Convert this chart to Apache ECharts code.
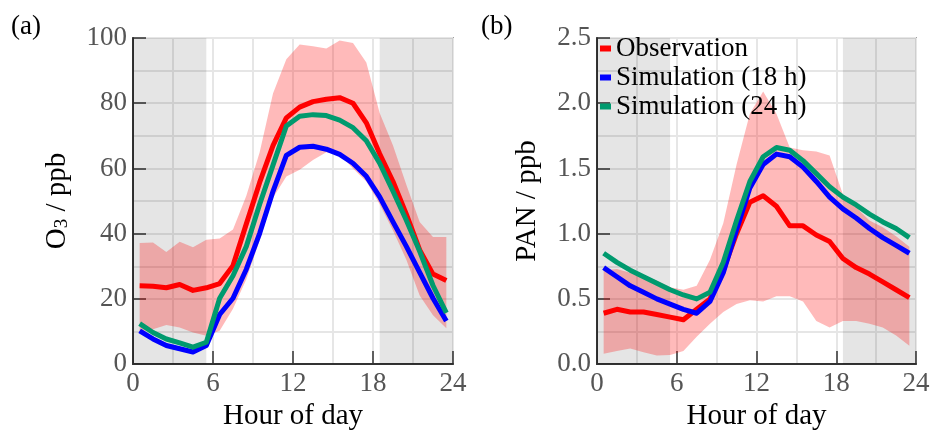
<!DOCTYPE html>
<html>
<head>
<meta charset="utf-8">
<script src="https://cdn.jsdelivr.net/npm/echarts@6/dist/echarts.min.js"></script>
<style>
html,body{margin:0;padding:0;background:#fff;}
#chart{width:933px;height:436px;}
</style>
</head>
<body>
<div id="chart"></div>
<script>
// ---- data ----
const hours = [0.5,1.5,2.5,3.5,4.5,5.5,6.5,7.5,8.5,9.5,10.5,11.5,12.5,13.5,14.5,15.5,16.5,17.5,18.5,19.5,20.5,21.5,22.5,23.5];
const xTicks = [0,6,12,18,24];
const nightRanges = [[0,5.5],[18.5,24]];
const seriesNames = ['Observation','Simulation (18 h)','Simulation (24 h)'];

const o3Obs   = [24.0,23.9,23.4,24.4,22.6,23.4,24.7,30.2,43.0,55.7,67.0,75.5,78.8,80.5,81.2,81.7,80.0,74.0,64.5,56.0,46.0,35.0,27.6,25.6];
const o3Sim18 = [10.2,7.7,5.7,4.7,3.7,5.7,15.2,20.2,29.1,40.1,53.0,64.0,66.5,66.8,65.9,64.3,61.6,57.6,51.3,43.6,36.1,28.1,20.2,13.2];
const o3Sim24 = [12.4,9.7,7.7,6.5,5.2,6.7,20.2,27.1,36.1,49.0,61.0,73.0,76.0,76.5,76.2,74.8,72.5,68.5,61.6,53.0,44.1,34.6,24.1,15.7];
const o3Upper = [37.1,37.3,34.4,37.5,35.8,38.1,38.5,41.3,51.6,65.0,83.0,93.5,98.0,97.5,96.8,99.2,98.5,92.5,77.0,67.0,55.0,43.6,39.0,39.0];
const o3Lower = [10.0,10.7,12.0,11.2,9.7,8.7,10.2,17.0,26.0,38.0,51.0,57.5,59.6,62.6,65.0,64.3,60.0,56.0,49.0,41.0,32.0,21.0,15.0,11.0];

const panObs   = [0.39,0.42,0.40,0.40,0.38,0.36,0.34,0.42,0.50,0.72,1.00,1.24,1.29,1.21,1.06,1.06,0.99,0.94,0.81,0.74,0.69,0.63,0.57,0.51];
const panSim18 = [0.74,0.67,0.60,0.55,0.50,0.46,0.42,0.39,0.48,0.70,1.03,1.35,1.53,1.61,1.59,1.51,1.40,1.28,1.19,1.12,1.04,0.97,0.91,0.85];
const panSim24 = [0.85,0.78,0.72,0.67,0.62,0.57,0.53,0.50,0.55,0.78,1.10,1.40,1.59,1.66,1.64,1.56,1.46,1.36,1.28,1.22,1.15,1.09,1.04,0.97];
const panUpper = [0.72,0.73,0.70,0.68,0.64,0.59,0.57,0.60,0.80,1.08,1.53,1.92,2.09,1.92,1.66,1.64,1.63,1.60,1.30,1.20,1.10,1.05,0.98,0.90];
const panLower = [0.08,0.10,0.12,0.09,0.065,0.07,0.10,0.21,0.31,0.40,0.46,0.49,0.48,0.52,0.52,0.48,0.33,0.28,0.33,0.33,0.31,0.28,0.22,0.14];

// ---- chart ----
const FONT = 'Liberation Serif';
const LABEL_COLOR = '#555';
const GRID_COLOR = '#e6e6e6';
const BAND = 'rgba(255,0,0,0.27)';
const COLORS = ['#ff0000','#0000ff','#009a6e'];

function pairs(ys){ return hours.map((h,i)=>[h, ys[i]]); }

const grids = [
  {left:133, top:38, width:320, height:334},
  {left:597, top:38, width:319, height:334}
].map(g => Object.assign(g, {show:true, borderColor:'#555', borderWidth:1.5, backgroundColor:'transparent'}));

const xAxes = [0,1].map(i => ({
  gridIndex:i, type:'value', min:xTicks[0], max:xTicks[xTicks.length-1], interval:6,
  name:'Hour of day', nameLocation:'middle', nameGap:35,
  nameTextStyle:{fontFamily:FONT, fontSize:29, color:'#000'},
  axisLine:{show:true, onZero:false, lineStyle:{color:'#333', width:2}},
  axisTick:{show:true, inside:true, length:13, lineStyle:{color:'#333', width:1.5}},
  axisLabel:{fontFamily:FONT, fontSize:27, color:LABEL_COLOR, margin:6},
  splitLine:{show:true, lineStyle:{color:GRID_COLOR, width:2}},
  minorTick:{show:false, splitNumber:2},
  minorSplitLine:{show:true, lineStyle:{color:GRID_COLOR, width:2}}
}));

const yAxes = [
  {gridIndex:0, type:'value', min:0, max:100, interval:20,
   name:'{n|O}{s|3}{n| / ppb}', nameGap:61,
   axisLabel:{formatter:v=>String(v)}},
  {gridIndex:1, type:'value', min:0, max:2.5, interval:0.5,
   name:'{n|PAN / ppb}', nameGap:55,
   axisLabel:{formatter:v=>v.toFixed(1)}}
].map(a => Object.assign(a, {
  nameLocation:'middle', nameRotate:90,
  nameTextStyle:{fontFamily:FONT, fontSize:29, color:'#000', rich:{
    n:{fontFamily:FONT, fontSize:29, color:'#000', lineHeight:29},
    s:{fontFamily:FONT, fontSize:19, color:'#000', verticalAlign:'bottom', lineHeight:19}
  }},
  axisLine:{show:true, lineStyle:{color:'#333', width:2}},
  axisTick:{show:true, inside:true, length:13, lineStyle:{color:'#333', width:1.5}},
  axisLabel:Object.assign(a.axisLabel, {fontFamily:FONT, fontSize:27, color:LABEL_COLOR, margin:6}),
  splitLine:{show:true, lineStyle:{color:GRID_COLOR, width:2}},
  minorTick:{show:false, splitNumber:2},
  minorSplitLine:{show:true, lineStyle:{color:GRID_COLOR, width:2}}
}));

function bandSeries(i, up, lo){
  return {
    type:'custom', xAxisIndex:i, yAxisIndex:i, silent:true, clip:true,
    data:[[hours[0], up[0]]],
    renderItem:function(params, api){
      const pts = [];
      hours.forEach((h,k)=>pts.push(api.coord([h, up[k]])));
      for(let k=hours.length-1;k>=0;k--) pts.push(api.coord([hours[k], lo[k]]));
      return {type:'polygon', shape:{points:pts}, style:{fill:BAND, stroke:null}};
    }
  };
}

function panelSeries(i, obs, s18, s24, up, lo){
  const base = {xAxisIndex:i, yAxisIndex:i, type:'line', symbol:'none', silent:true};
  return [
    Object.assign({}, base, {name:'night'+i, data:[], markArea:{silent:true,
      itemStyle:{color:'rgba(0,0,0,0.1)'},
      data: nightRanges.map(r => [{xAxis:r[0]},{xAxis:r[1]}])}}),
    bandSeries(i, up, lo),
    Object.assign({}, base, {name:seriesNames[0], data:pairs(obs), lineStyle:{color:COLORS[0], width:5, join:'round'}, itemStyle:{color:COLORS[0]}}),
    Object.assign({}, base, {name:seriesNames[1], data:pairs(s18), lineStyle:{color:COLORS[1], width:5, join:'round'}, itemStyle:{color:COLORS[1]}}),
    Object.assign({}, base, {name:seriesNames[2], data:pairs(s24), lineStyle:{color:COLORS[2], width:5, join:'round'}, itemStyle:{color:COLORS[2]}})
  ];
}

const option = {
  animation:false,
  backgroundColor:'#fff',
  textStyle:{fontFamily:FONT},
  grid:grids,
  xAxis:xAxes,
  yAxis:yAxes,
  legend:{
    data:seriesNames, orient:'vertical', left:600, top:35, padding:0,
    icon:'rect', itemWidth:11, itemHeight:6, itemGap:2,
    textStyle:{fontFamily:FONT, fontSize:27, color:'#000', lineHeight:27},
    selectedMode:false
  },
  graphic:[
    {type:'text', left:11, top:13, style:{text:'(a)', fontFamily:FONT, fontSize:27, fill:'#000'}},
    {type:'text', left:481, top:13, style:{text:'(b)', fontFamily:FONT, fontSize:27, fill:'#000'}}
  ],
  series:[].concat(
    panelSeries(0, o3Obs, o3Sim18, o3Sim24, o3Upper, o3Lower),
    panelSeries(1, panObs, panSim18, panSim24, panUpper, panLower)
  )
};

const chart = echarts.init(document.getElementById('chart'), null, {renderer:'canvas'});
chart.setOption(option);
</script>
</body>
</html>
